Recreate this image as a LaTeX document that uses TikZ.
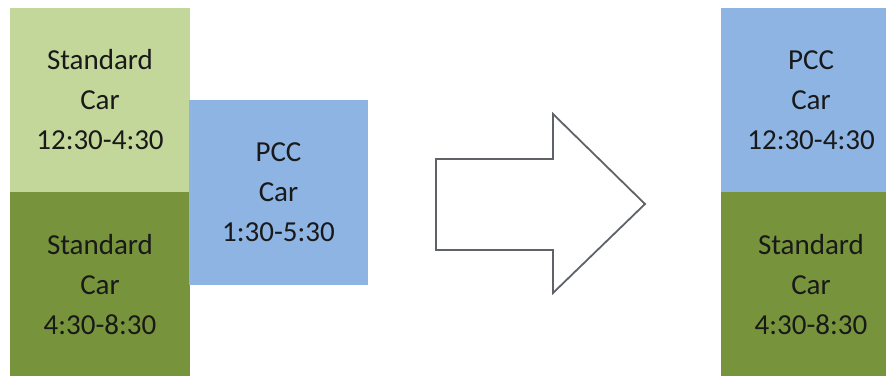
\documentclass[tikz,border=0pt]{standalone}
\usepackage{fontspec}
\setmainfont{Carlito}
\definecolor{lightgreen}{HTML}{C4D79B}
\definecolor{darkgreen}{HTML}{77933C}
\definecolor{pccblue}{HTML}{8EB4E3}
\definecolor{arrowgray}{HTML}{5F6368}
\begin{document}
\begin{tikzpicture}[x=1pt,y=-1pt,
  box/.style={rectangle, inner sep=0pt, outer sep=0pt, anchor=north west,
    align=center, font=\fontsize{29}{40}\selectfont, text=black!90}]
\useasboundingbox (0,0) rectangle (886,375);
\node[box, fill=lightgreen, minimum width=180pt, minimum height=184pt] (s1) at (10,8) {Standard\\Car\\12:30-4:30};
\node[box, fill=darkgreen, minimum width=180pt, minimum height=185pt] (s2) at (10,192) {Standard\\Car\\4:30-8:30};
\node[box, fill=pccblue, minimum width=179pt, minimum height=185pt] (p1) at (189,100) {PCC\\Car\\1:30-5:30};
\draw[arrowgray, line width=1.8pt, line join=miter, fill=white]
  (436,159) -- (553,159) -- (553,114) -- (645,204) -- (553,293) -- (553,250) -- (436,250) -- cycle;
\node[box, fill=pccblue, minimum width=180pt, minimum height=184pt] (p2) at (721,8) {PCC\\Car\\12:30-4:30};
\node[box, fill=darkgreen, minimum width=180pt, minimum height=185pt] (s3) at (721,192) {Standard\\Car\\4:30-8:30};
\end{tikzpicture}
\end{document}
